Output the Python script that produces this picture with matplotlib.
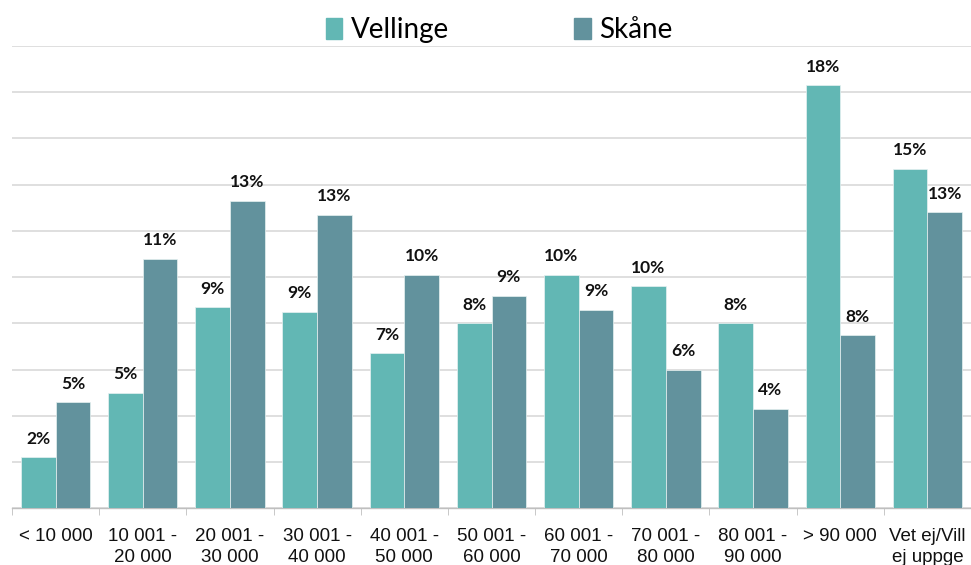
import numpy as np
import matplotlib
matplotlib.use("Agg")
import matplotlib.pyplot as plt
from matplotlib.patches import Patch

# data (percent)
categories = ["< 10 000", "10 001 -\n20 000", "20 001 -\n30 000", "30 001 -\n40 000",
              "40 001 -\n50 000", "50 001 -\n60 000", "60 001 -\n70 000", "70 001 -\n80 000",
              "80 001 -\n90 000", "> 90 000", "Vet ej/Vill\nej uppge"]
vellinge = [2.2, 5.0, 8.7, 8.5, 6.7, 8.0, 10.1, 9.6, 8.0, 18.3, 14.7]
skane = [4.6, 10.8, 13.3, 12.7, 10.1, 9.2, 8.6, 6.0, 4.3, 7.5, 12.8]
labels_v = ["2%", "5%", "9%", "9%", "7%", "8%", "10%", "10%", "8%", "18%", "15%"]
labels_s = ["5%", "11%", "13%", "13%", "10%", "9%", "9%", "6%", "4%", "8%", "13%"]

c_v = "#62b7b4"
c_s = "#62929d"

fig = plt.figure(figsize=(9.71, 5.65), dpi=100)
ax = fig.add_axes([12/971, (565-508.3)/565, 1 - 12/971, (508.3-46)/565])

x = np.arange(len(categories))
w = 0.398
bv = ax.bar(x - w/2, vellinge, w, color=c_v, edgecolor="#e8f2f2", linewidth=0.5, zorder=3)
bs = ax.bar(x + w/2, skane, w, color=c_s, edgecolor="#e8f2f2", linewidth=0.5, zorder=3)

for bars, labs in ((bv, labels_v), (bs, labels_s)):
    for b, t in zip(bars, labs):
        ax.annotate(t, (b.get_x() + b.get_width()/2, b.get_height()),
                    xytext=(0, 7.5), textcoords="offset points", ha="center", va="bottom",
                    fontsize=12.5, fontweight="bold", family="Lato", color="#111111")

ax.set_ylim(0, 20)
ax.set_xlim(-0.5, 10.47)
ax.set_yticks(np.arange(0, 21, 2))
ax.yaxis.grid(True, color="#d9d9d9", linewidth=1.2, zorder=0)
ax.tick_params(axis="y", left=False, labelleft=False)
for s in ("top", "right", "left"):
    ax.spines[s].set_visible(False)
ax.spines["bottom"].set_color("#bfbfbf")
ax.spines["bottom"].set_linewidth(1.0)

ax.set_xticks(x)
ax.set_xticklabels(categories, fontsize=13.5, family="Liberation Sans", color="#111111",
                   linespacing=1.3)
ax.tick_params(axis="x", length=0, pad=14)
ax.set_xticks(np.arange(-0.5, 11, 1), minor=True)
ax.tick_params(axis="x", which="minor", length=5, color="#bfbfbf")

handles = [Patch(color=c_v, label="Vellinge"), Patch(color=c_s, label="Skåne")]
fig.legend(handles=handles, loc="center", bbox_to_anchor=(499/971, 1 - 30/565), ncol=2,
           frameon=False, prop={"family": "Lato", "size": 20}, handlelength=0.6,
           handleheight=0.8, handletextpad=0.3, columnspacing=4.5)

fig.savefig("out.png", dpi=100)
